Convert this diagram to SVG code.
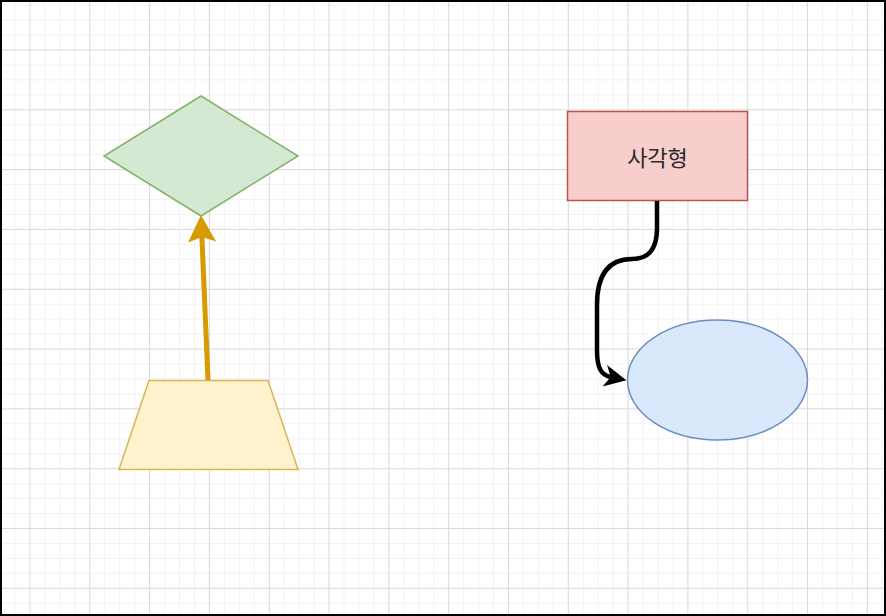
<svg xmlns="http://www.w3.org/2000/svg" width="886" height="616" viewBox="0 0 886 616">
  <style>
    .minor { stroke: #f2f2f2; stroke-width: 1; }
    .major { stroke: #d8d8d8; stroke-width: 1; }
    .label { font-family: "Noto Sans CJK KR", "Noto Sans", sans-serif; font-size: 22px; fill: #2a2a2a; text-anchor: middle; dominant-baseline: central; }
  </style>
  <defs>
    <pattern id="grid" patternUnits="userSpaceOnUse" x="29.5" y="49.5" width="59.81" height="59.81">
      <path class="minor" d="M15.45,0 V59.81 M30.4,0 V59.81 M45.36,0 V59.81 M0,15.45 H59.81 M0,30.4 H59.81 M0,45.36 H59.81" fill="none"/>
      <path class="major" d="M0.5,0 V59.81 M0,0.5 H59.81" fill="none"/>
    </pattern>
    <marker id="arrowOrange" viewBox="-30 -15 32 30" refX="-22" refY="0" markerWidth="32" markerHeight="30" markerUnits="userSpaceOnUse" orient="auto">
      <path d="M0,0 L-27,-14 L-22,0 L-27,14 Z" fill="#d79b00"/>
    </marker>
    <marker id="arrowBlack" viewBox="-26 -13 28 26" refX="-16" refY="0" markerWidth="28" markerHeight="26" markerUnits="userSpaceOnUse" orient="auto">
      <path d="M0,0 L-22,-11 L-16,0 L-22,11 Z" fill="#000000"/>
    </marker>
  </defs>
  <rect x="0" y="0" width="886" height="616" fill="#ffffff"/>
  <rect x="0" y="0" width="886" height="616" fill="url(#grid)"/>
  <rect x="1" y="1" width="884" height="614" fill="none" stroke="#000000" stroke-width="2"/>

  <g id="diamond">
    <polygon points="201,96 298,156 201,216 104,156" fill="#d5e8d4" stroke="#82b366" stroke-width="1.5"/>
  </g>
  <g id="trapezoid">
    <polygon points="149,380.5 268,380.5 298,469.5 119,469.5" fill="#fff2cc" stroke="#d6b656" stroke-width="1.5"/>
  </g>
  <g id="rectangle">
    <rect x="567.5" y="111.5" width="180" height="89" fill="#f8cecc" stroke="#b85450" stroke-width="1.5"/>
    <text class="label" x="657.5" y="156">사각형</text>
  </g>
  <g id="ellipse">
    <ellipse cx="717.5" cy="380" rx="90" ry="60" fill="#dae8fc" stroke="#6c8ebf" stroke-width="1.5"/>
  </g>

  <g id="connectors" fill="none">
    <path d="M208,380 L201.9,237" stroke="#d79b00" stroke-width="5" marker-end="url(#arrowOrange)"/>
    <path d="M657,201 L657,228 C657,250 648,259 632,259 C608,259 597,275 597,305 L597,350 C597,368 601,375 610.7,377" stroke="#000000" stroke-width="4.5" marker-end="url(#arrowBlack)"/>
  </g>
</svg>
